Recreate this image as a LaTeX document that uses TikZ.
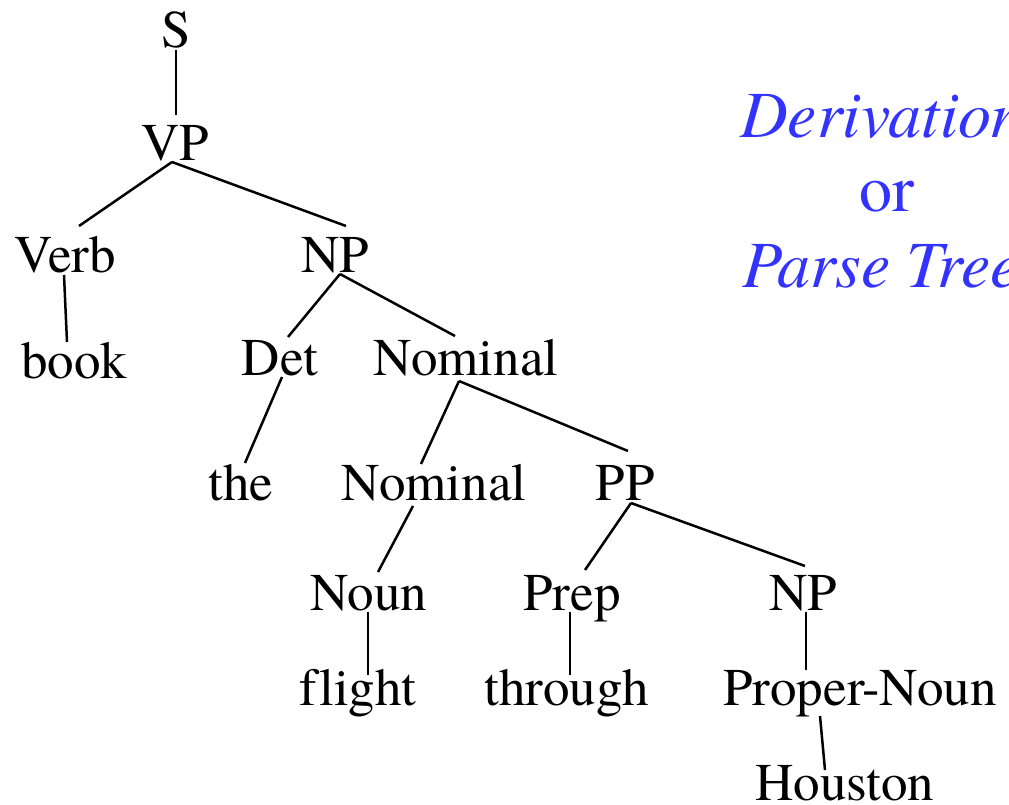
\documentclass[tikz,border=0pt]{standalone}
\usepackage{fontspec}
\setmainfont{texgyretermes}[Extension=.otf, UprightFont=*-regular, ItalicFont=*-italic, BoldFont=*-bold, Ligatures={NoCommon}]
\usetikzlibrary{calc}
\definecolor{labelblue}{RGB}{51,51,255}
\begin{document}
\begin{tikzpicture}[x=1pt,y=-1pt,
  cat/.style={anchor=base,inner sep=0pt,font=\fontsize{53}{60}\selectfont},
  note/.style={anchor=base,inner sep=0pt,text=labelblue,font=\fontsize{66}{76}\selectfont},
  branch/.style={line width=2.5pt}]
\useasboundingbox (0,0) rectangle (1009,804);
\clip (0,0) rectangle (1009,804);

% tree nodes, placed at text centre / baseline
\node[cat] (S)       at (176,47)  {S};
\node[cat] (VP)      at (175,160) {VP};
\node[cat] (Verb)    at (65,272)  {Verb};
\node[cat] (NP)      at (335,272) {NP};
\node[cat] (book)    at (74,378)  {book};
\node[cat] (Det)     at (280,375) {Det};
\node[cat] (NomA)    at (466,375) {Nominal};
\node[cat] (the)     at (241,500) {the};
\node[cat] (NomB)    at (434,500) {Nominal};
\node[cat] (PP)      at (625,500) {PP};
\node[cat] (Noun)    at (369,610) {Noun};
\node[cat] (Prep)    at (572,610) {Prep};
\node[cat] (NPb)     at (803,610) {NP};
\node[cat] (flight)  at (358,705) {flight};
\node[cat] (through) at (567,705) {through};
\node[cat] (PN)      at (860,705) {Proper-Noun};
\node[cat] (Houston) at (845,800) {Houston};

% side caption
\node[note,anchor=base west] (deriv) at (740,137) {\itshape Derivation};
\node[note] (or) at (887,211) {or};
\node[note,anchor=base west] (parse) at (742,287) {\itshape Parse Tree};

% branches
\draw[branch] ($(S.base)+(0,3)$)      -- ($(VP.base)+(1,-45)$);
\draw[branch] ($(VP.base)+(-3,2)$)    -- ($(Verb.base)+(14,-46)$);
\draw[branch] ($(VP.base)+(-3,2)$)    -- ($(NP.base)+(11,-46)$);
\draw[branch] ($(Verb.base)+(-1,3)$)  -- ($(book.base)+(-7,-36)$);
\draw[branch] ($(NP.base)+(5,2)$)     -- ($(Det.base)+(8,-38)$);
\draw[branch] ($(NP.base)+(5,2)$)     -- ($(NomA.base)+(-11,-39)$);
\draw[branch] ($(Det.base)+(2,2)$)    -- ($(the.base)+(4,-37)$);
\draw[branch] ($(NomA.base)+(-7,6)$)  -- ($(NomB.base)+(-13,-36)$);
\draw[branch] ($(NomA.base)+(-7,6)$)  -- ($(PP.base)+(3,-49)$);
\draw[branch] ($(NomB.base)+(-21,6)$) -- ($(Noun.base)+(9,-38)$);
\draw[branch] ($(PP.base)+(6,3)$)     -- ($(Prep.base)+(13,-40)$);
\draw[branch] ($(PP.base)+(6,3)$)     -- ($(NPb.base)+(2,-44)$);
\draw[branch] ($(Noun.base)+(-1,2)$)  -- ($(flight.base)+(10,-30)$);
\draw[branch] ($(Prep.base)+(-2,2)$)  -- ($(through.base)+(3,-30)$);
\draw[branch] ($(NPb.base)+(3,2)$)    -- ($(PN.base)+(-54,-35)$);
\draw[branch] ($(PN.base)+(-40,11)$)  -- ($(Houston.base)+(-20,-30)$);
\end{tikzpicture}
\end{document}
